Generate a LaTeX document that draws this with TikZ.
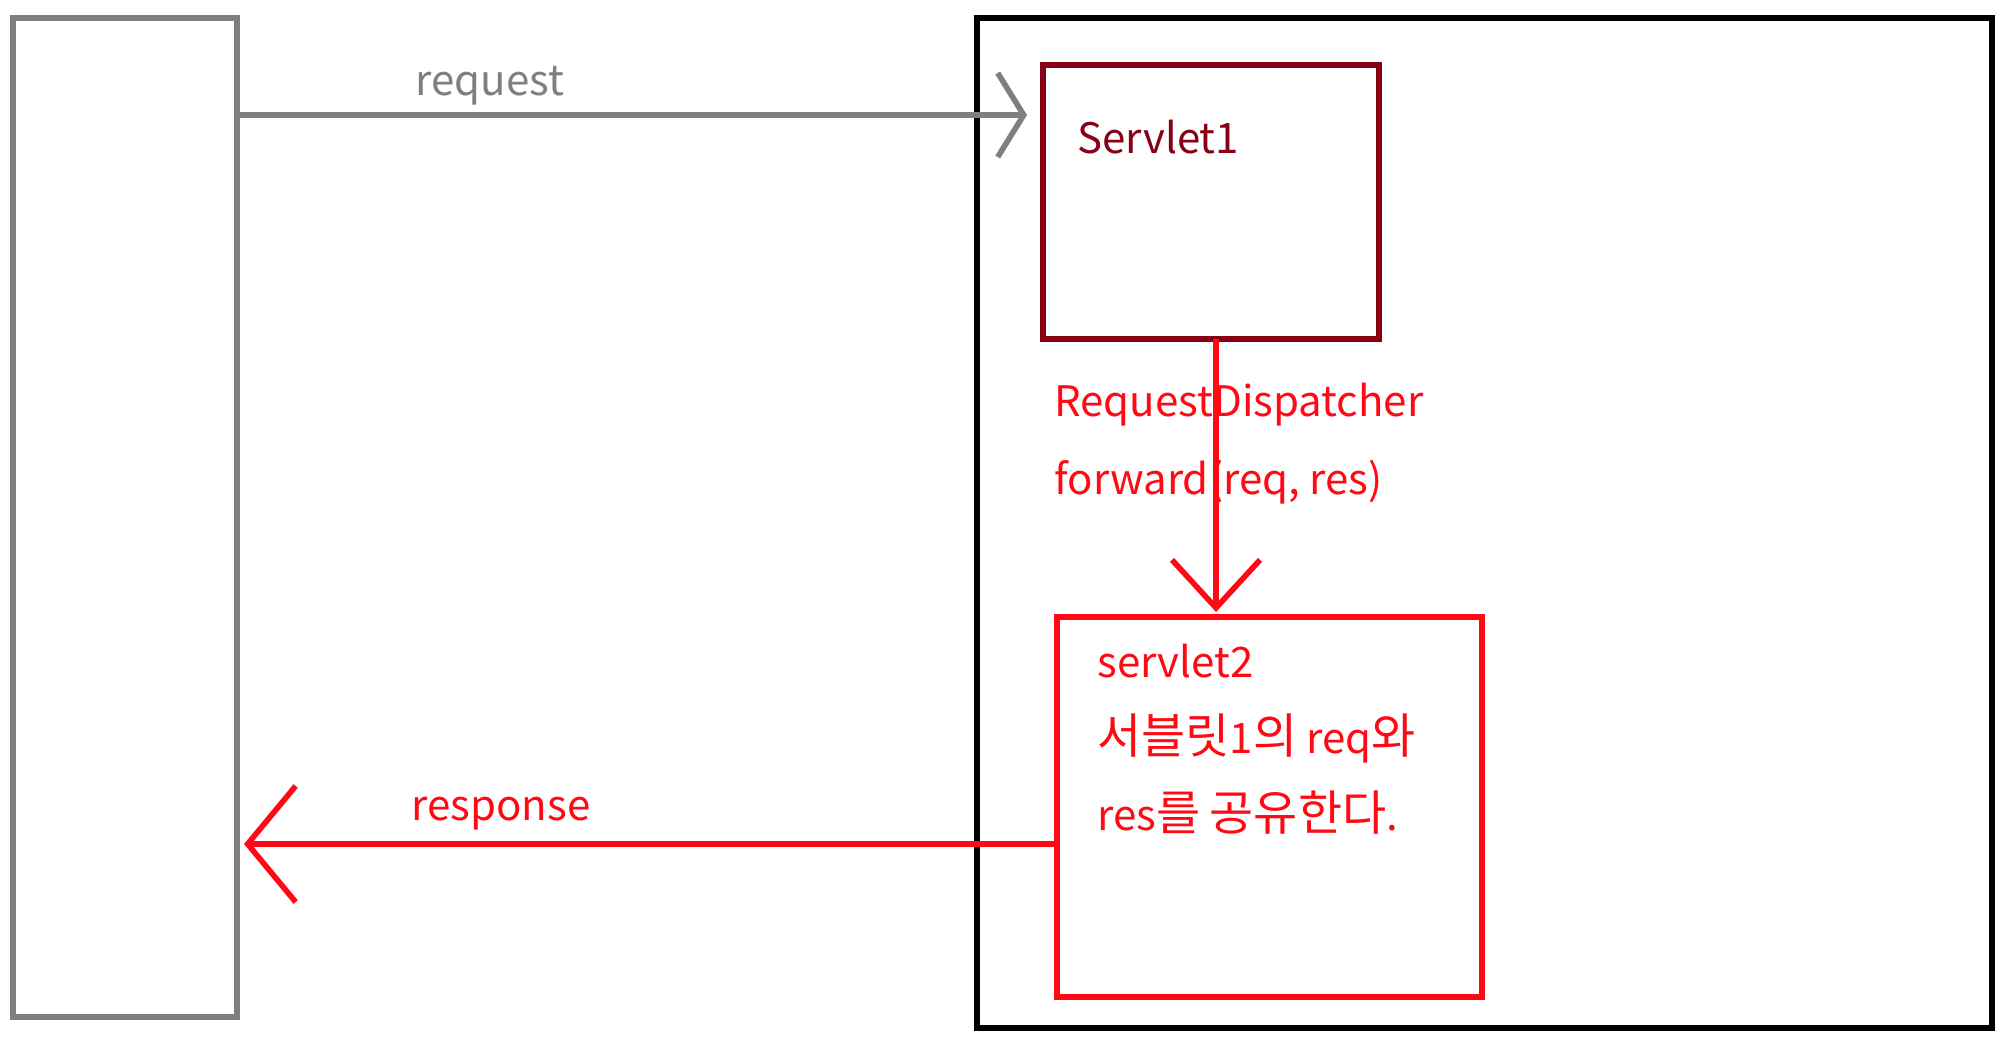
\documentclass[tikz,border=0pt]{standalone}
\usepackage{fontspec}
\setmainfont{Noto Sans CJK KR}
\usetikzlibrary{arrows.meta}
\definecolor{cgray}{HTML}{7F7F7F}
\definecolor{cdark}{HTML}{880015}
\definecolor{cred}{HTML}{FF0A14}
\newcommand{\hg}[1]{{\fontsize{24}{28}\selectfont #1}}
\begin{document}
\begin{tikzpicture}[x=0.5pt,y=-0.5pt,
  box/.style={draw, line width=3pt, inner sep=0pt, outer sep=0pt, anchor=north west},
  txt/.style={inner sep=0pt, anchor=base west, font=\fontsize{21}{26}\selectfont},
  conn/.style={line width=2.8pt}]
\useasboundingbox (0,0) rectangle (2000,1040);
\fill[white] (0,0) rectangle (2000,1040);
% boxes
\node[box, draw=cgray, minimum width=112pt, minimum height=499.5pt] (client) at (13,18) {};
\node[box, draw=black, minimum width=507.5pt, minimum height=505pt] (server) at (977,18) {};
\node[box, draw=cdark, minimum width=168pt, minimum height=137pt] (s1) at (1043,65) {};
\node[box, draw=cred, minimum width=212.5pt, minimum height=190pt] (s2) at (1057,617) {};
% texts
\node[txt, text=cdark] (s1t) at (1077,153) {Servlet1};
\node[txt, text=cred] (s2a) at (1097,677) {servlet2};
\node[txt, text=cred] (s2b) at (1097,753) {\hg{서블릿}1\hg{의} req\hg{와}};
\node[txt, text=cred] (s2c) at (1097,830) {res\hg{를} \hg{공유한다}.};
\node[txt, text=cgray, anchor=base] (reql) at (490,95) {request};
\node[txt, text=cred, anchor=base] (resl) at (501,820) {response};
\node[txt, text=cred] (rd1) at (1054,416) {RequestDispatcher};
\node[txt, text=cred] (rd2) at (1054,494) {forward(req, res)};
% connectors
\coordinate (reqtip) at (1027,115);
\coordinate (restip) at (244,844);
\coordinate (fwdtip) at (1216,612);
\draw[conn, draw=cgray, -{Straight Barb[length=13pt,width=42pt,line width=2.8pt]}] (client.east |- reqtip) -- (reqtip);
\draw[conn, draw=cred, -{Straight Barb[length=24pt,width=58pt,line width=2.8pt]}] (s2.west |- restip) -- (restip);
\draw[conn, draw=cred, -{Straight Barb[length=24pt,width=44pt,line width=2.8pt]}] (s1.south -| fwdtip) -- (fwdtip);
\end{tikzpicture}
\end{document}
